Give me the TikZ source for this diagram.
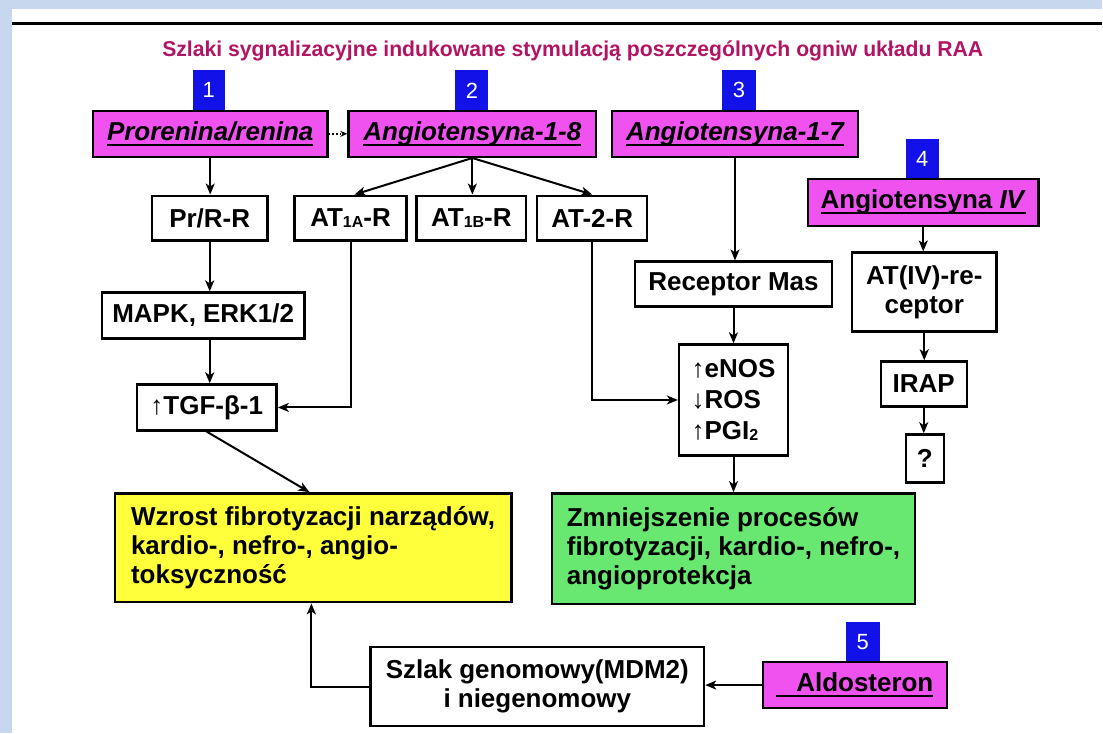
\documentclass[tikz,border=0pt]{standalone}
\usepackage{fontspec}
\usepackage{graphicx}
\setmainfont{Liberation Sans}
\usetikzlibrary{arrows.meta}

\definecolor{bgblue}{RGB}{198,215,238}
\definecolor{pinkfill}{RGB}{240,82,240}
\definecolor{numblue}{RGB}{18,18,232}
\definecolor{yellowfill}{RGB}{255,255,60}
\definecolor{greenfill}{RGB}{104,232,112}
\definecolor{titlered}{RGB}{178,20,100}

% thick underline under a piece of text
\newcommand\ulin[1]{\setbox0=\hbox{#1}\rlap{\rule[-5pt]{\wd0}{2pt}}\box0}
% small lowered index (AT1A, PGI2)
\newcommand\lowidx[1]{\raisebox{-1pt}{\fontsize{16}{16}\selectfont #1}}
% thin arrow glyph inside bold text
\newcommand\thinarr[1]{{\mdseries #1}}

\tikzset{
  box/.style={draw=black, line width=2.4pt, fill=white, inner sep=0pt,
    font=\fontsize{26}{29}\selectfont\bfseries},
  agent/.style={box, fill=pinkfill},
  numtag/.style={fill=numblue, text=white, inner sep=0pt,
    font=\fontsize{22}{22}\selectfont},
  link/.style={line width=2pt, -{Stealth[length=11pt,width=9pt,inset=3pt]}},
  weaklink/.style={line width=1.6pt, dotted, -{Stealth[length=7pt,width=6pt]}},
}

\begin{document}
\begin{tikzpicture}[x=1pt,y=-1pt]
  % page frame
  \fill[bgblue] (0,0) rectangle (1103,734);
  \fill[white] (12,9) rectangle (1103,734);
  \draw[line width=3pt] (12,24) -- (1103,24);

  % heading, set in a narrowed heavy face
  \node[anchor=base, text=titlered, inner sep=0pt] (title) at (573.5,57)
    {\resizebox{822pt}{\height}{\fontsize{21.5}{21.5}\selectfont\bfseries
     Szlaki sygnalizacyjne indukowane stymulacją poszczególnych ogniw układu RAA}};

  % numbered tags
  \node[numtag, minimum width=32pt, minimum height=41pt] (t1) at (209,90.5) {1};
  \node[numtag, minimum width=33pt, minimum height=41pt] (t2) at (472.5,90.5) {2};
  \node[numtag, minimum width=34pt, minimum height=41pt] (t3) at (740,90.5) {3};
  \node[numtag, minimum width=33pt, minimum height=40pt] (t4) at (923.5,159) {4};
  \node[numtag, minimum width=34pt, minimum height=40pt] (t5) at (864,643) {5};

  % agents of the RAA system
  \node[agent, minimum width=235pt, minimum height=46pt] (pro) at (210.5,134)
    {\itshape\ulin{Prorenina/renina}};
  \node[agent, minimum width=248pt, minimum height=46pt] (a18) at (473,134)
    {\itshape\ulin{Angiotensyna-1-8}};
  \node[agent, minimum width=246pt, minimum height=46pt] (a17) at (736,134)
    {\itshape\ulin{Angiotensyna-1-7}};
  \node[agent, minimum width=231pt, minimum height=47pt] (a4) at (924.5,202.5)
    {\ulin{Angiotensyna \textit{IV}}};
  \node[agent, minimum width=184pt, minimum height=46pt] (aldo) at (856,686)
    {\ulin{\hspace*{20pt}Aldosteron}};

  % receptors and mediators
  \node[box, minimum width=116pt, minimum height=45pt] (prr) at (210,218.5) {Pr/R-R};
  \node[box, minimum width=112pt, minimum height=45pt] (at1a) at (351,218.5) {AT\lowidx{1A}-R};
  \node[box, minimum width=110pt, minimum height=45pt] (at1b) at (472,218.5) {AT\lowidx{1B}-R};
  \node[box, minimum width=110pt, minimum height=45pt] (at2) at (593,218.5) {AT-2-R};
  \node[box, minimum width=197pt, minimum height=45pt] (mas) at (734.5,284.5) {Receptor Mas};
  \node[box, minimum width=145pt, minimum height=79pt, align=center] (at4) at (925.5,292.5)
    {AT(IV)-re-\\ceptor};
  \node[box, minimum width=203pt, minimum height=46pt] (mapk) at (203.5,316) {MAPK, ERK1/2};
  \node[box, minimum width=140pt, minimum height=46pt] (tgf) at (207,408)
    {\thinarr{↑}TGF-β-1};
  \node[box, minimum width=109pt, minimum height=111pt, align=left,
        font=\fontsize{26}{31}\selectfont\bfseries] (enos) at (734.5,400.5)
    {\thinarr{↑}eNOS\\\thinarr{↓}ROS\\\thinarr{↑}PGI\lowidx{2}};
  \node[box, minimum width=86pt, minimum height=45pt] (irap) at (925,384.5) {IRAP};
  \node[box, minimum width=38pt, minimum height=48pt] (q) at (926,459) {?};

  % outcomes
  \node[box, fill=yellowfill, minimum width=397pt, minimum height=109pt, align=left]
    (harm) at (313.5,548.5)
    {Wzrost fibrotyzacji narządów,\\kardio-, nefro-, angio-\\toksyczność};
  \node[box, fill=greenfill, minimum width=363pt, minimum height=111pt, align=left]
    (prot) at (734.5,549.5)
    {Zmniejszenie procesów\\fibrotyzacji, kardio-, nefro-,\\angioprotekcja};
  \node[box, minimum width=334pt, minimum height=79pt, align=center] (szlak) at (538,687.5)
    {Szlak genomowy(MDM2)\\i niegenomowy};

  % connections
  \draw[weaklink] (pro.east) -- (a18.west);
  \draw[link] (pro.south) -- (pro.south |- prr.north);
  \draw[link] (a18.south) -- ([xshift=4pt]at1a.north);
  \draw[link] (a18.south) -- (a18.south |- at1b.north);
  \draw[link] (a18.south) -- (at2.north);
  \draw[link] (prr.south) -- (prr.south |- mapk.north);
  \draw[link] (prr.south |- mapk.south) -- (prr.south |- tgf.north);
  \draw[link] (at1a.south) |- (tgf.east);
  \draw[link] (at2.south) |- (enos.west);
  \draw[link] (tgf.south) -- ([xshift=196pt]harm.north west);
  \draw[link] (a17.south) -- (a17.south |- mas.north);
  \draw[link] (mas.south) -- (enos.north);
  \draw[link] (enos.south) -- (enos.south |- prot.north);
  \draw[link] (a4.south) -- (a4.south |- at4.north);
  \draw[link] (at4.south) -- (at4.south |- irap.north);
  \draw[link] (irap.south) -- (irap.south |- q.north);
  \draw[link] (aldo.west) -- (aldo.west -| szlak.east);
  \draw[link] (szlak.west) -| ([xshift=198pt]harm.south west);
\end{tikzpicture}
\end{document}
